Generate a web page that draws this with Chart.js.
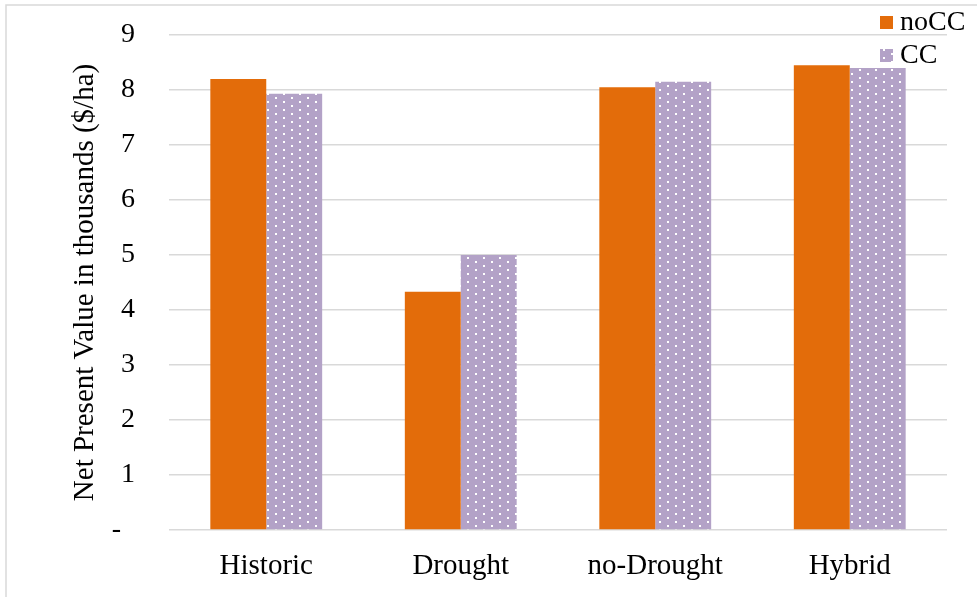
<!DOCTYPE html>
<html lang="en">
<head>
<meta charset="UTF-8">
<title>Net Present Value</title>
<style>
  body { margin: 0; background: #fff; }
  #wrap { width: 977px; height: 597px; }
</style>
</head>
<body>
<div id="wrap"><canvas id="npvChart" width="977" height="597"></canvas></div>
<script src="https://cdn.jsdelivr.net/npm/chart.js"></script>
<script>
  // Scenarios and NPV (thousand $/ha)
  const scenarios = ['Historic', 'Drought', 'no-Drought', 'Hybrid'];
  const noCC = [8.2, 4.33, 8.05, 8.45];
  const cc = [7.93, 5.0, 8.15, 8.4];
  const yTicks = [0, 1, 2, 3, 4, 5, 6, 7, 8, 9];

  const orange = '#E36C0A';
  const purple = '#B3A2C7';

  // dotted fill for the CC bars
  function dotPattern() {
    const c = document.createElement('canvas');
    c.width = 16; c.height = 8;
    const g = c.getContext('2d');
    g.fillStyle = purple;
    g.fillRect(0, 0, 16, 8);
    g.fillStyle = '#ffffff';
    g.fillRect(3, 1, 2, 2);
    g.fillRect(11, 5, 2, 2);
    return g.createPattern(c, 'repeat');
  }
  const ccFill = dotPattern();

  const family = '"Liberation Serif", "Times New Roman", serif';
  const font = { family: family, size: 28 };
  const bigFont = { family: family, size: 29 };

  // legend in the top right corner, plus the light frame
  const extras = {
    id: 'extras',
    afterDraw(chart) {
      const ctx = chart.ctx;
      ctx.save();
      ctx.strokeStyle = '#D9D9D9';
      ctx.lineWidth = 1.5;
      ctx.beginPath();
      ctx.moveTo(6, 597);
      ctx.lineTo(6, 5);
      ctx.lineTo(977, 5);
      ctx.stroke();

      const items = chart.data.datasets;
      ctx.font = font.size + 'px ' + font.family;
      ctx.textBaseline = 'middle';
      items.forEach((ds, i) => {
        const y = 22 + i * 33;
        ctx.fillStyle = ds.backgroundColor;
        ctx.fillRect(880, y - 6, 13, 13);
        ctx.fillStyle = '#000';
        ctx.fillText(ds.label, 900, y + 1);
      });
      ctx.restore();
    }
  };

  new Chart(document.getElementById('npvChart'), {
    type: 'bar',
    data: {
      labels: scenarios,
      datasets: [
        { label: 'noCC', data: noCC, backgroundColor: orange, categoryPercentage: 0.575, barPercentage: 1 },
        { label: 'CC', data: cc, backgroundColor: ccFill, categoryPercentage: 0.575, barPercentage: 1 }
      ]
    },
    options: {
      responsive: false,
      animation: false,
      layout: { padding: { left: 68, right: 30, top: 35, bottom: 16 } },
      plugins: {
        legend: { display: false },
        tooltip: { enabled: false }
      },
      scales: {
        x: {
          afterFit(scale) { scale.height = 51; },
          grid: { display: false },
          border: { display: false },
          ticks: { font: bigFont, color: '#000', padding: 11 }
        },
        y: {
          min: 0,
          max: 9,
          afterFit(scale) {
            scale.width = 101;
            scale.paddingTop = 0;
            scale.paddingBottom = 0;
          },
          afterBuildTicks(scale) { scale.ticks = yTicks.map(v => ({ value: v })); },
          grid: { color: '#D9D9D9', lineWidth: 1.5, drawTicks: false },
          border: { display: false },
          ticks: {
            font: font,
            color: '#000',
            padding: 34,
            callback: v => v === 0 ? '-  ' : v
          },
          title: {
            display: true,
            text: 'Net Present Value in thousands ($/ha)',
            font: bigFont,
            color: '#000',
            padding: 0
          }
        }
      }
    },
    plugins: [extras]
  });
</script>
</body>
</html>
